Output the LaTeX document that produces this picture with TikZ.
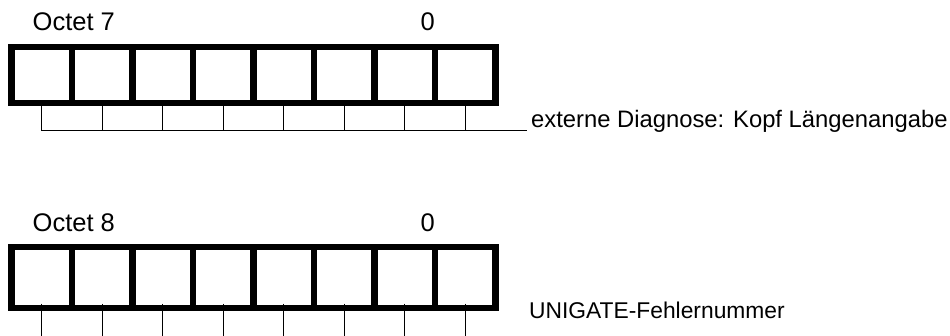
\documentclass[tikz,border=0pt]{standalone}
\usepackage{fontspec}
\setmainfont{Liberation Sans}
\begin{document}
\begin{tikzpicture}[x=1pt,y=-1pt,
  thickbox/.style={line width=6.3pt},
  thin/.style={line width=1pt},
  lbl/.style={inner sep=0pt,anchor=base west},
  big/.style={lbl,font=\fontsize{25.5}{29}\selectfont},
  desc/.style={lbl,font=\fontsize{23.8}{28}\selectfont}]
\useasboundingbox (0,0) rectangle (950,335);
% ---- Octet 7 ----
\node[big] (o7) at (32.5,30.5) {Octet 7};
\node[big] (z7) at (420.5,30.5) {0};
\draw[thickbox] (11.5,47) rectangle (495.5,103);
\foreach \i in {1,...,7}
  \draw[thickbox] ({11.5+60.5*\i},47) -- ({11.5+60.5*\i},103);
\foreach \i in {0,...,7}
  \draw[thin] ({41.75+60.5*\i},106) -- ({41.75+60.5*\i},130.5);
\node[desc] (t7) at (531,127) {externe Diagnose: Kopf Längenangabe};
\draw[thin] (41.75,130.5) -- (527,130.5);
% ---- Octet 8 ----
\node[big] (o8) at (32.5,231) {Octet 8};
\node[big] (z8) at (420.5,231) {0};
\foreach \i in {0,...,7}
  \draw[thin] ({41.75+60.5*\i},303.5) -- ({41.75+60.5*\i},336);
\draw[thickbox] (11.5,247) rectangle (495.5,308);
\foreach \i in {1,...,7}
  \draw[thickbox] ({11.5+60.5*\i},247) -- ({11.5+60.5*\i},308);
\node[lbl,font=\fontsize{22.8}{27}\selectfont] (t8) at (529,318) {UNIGATE-Fehlernummer};
\end{tikzpicture}
\end{document}
